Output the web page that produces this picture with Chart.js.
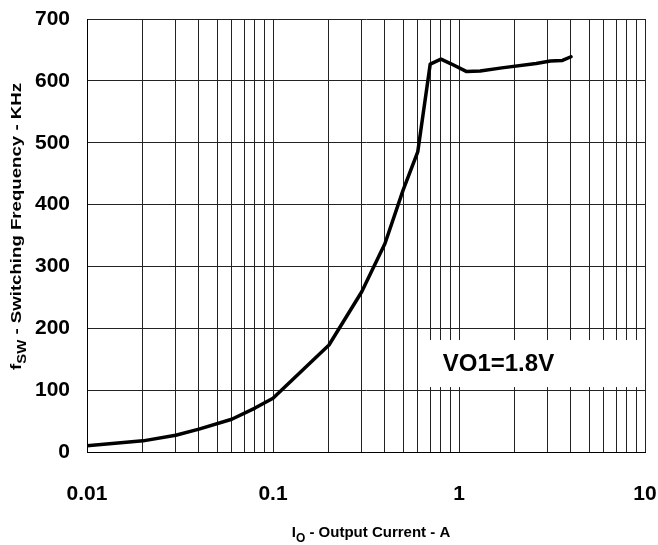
<!DOCTYPE html>
<html>
<head>
<meta charset="utf-8">
<script src="https://cdn.jsdelivr.net/npm/chart.js@4/dist/chart.umd.min.js"></script>
<style>
  html, body { margin: 0; padding: 0; background: #fff; }
  #wrap { width: 658px; height: 545px; position: relative; }
</style>
</head>
<body>
<div id="wrap"><canvas id="c" width="658" height="545"></canvas></div>
<script>
// ---- data ----
const outputCurrentA = [0.01, 0.02, 0.03, 0.04, 0.06, 0.08, 0.1, 0.2, 0.3, 0.4, 0.5, 0.6, 0.7, 0.8, 0.9, 1.1, 1.3, 1.7, 2.6, 3.1, 3.6, 4.0];
const switchingFreqKHz = [10, 18, 27, 37, 53, 71, 87, 173, 259, 337, 423, 485, 627, 635, 628, 615, 616, 621, 628, 632, 633, 639];
const xTickLabels = ['0.01', '0.1', '1', '10'];
const yTickValues = [0, 100, 200, 300, 400, 500, 600, 700];
const seriesLabel = 'VO1=1.8V';
const yTitleParts = ['f', 'SW', ' - Switching Frequency - KHz'];
const xTitleParts = ['I', 'O', ' - Output Current - A'];

const FONT = '"Liberation Sans", Arial, Helvetica, sans-serif';

const xGridValues = [];
[0.01, 0.1, 1].forEach(d => { for (let k = 1; k <= 9; k++) xGridValues.push(+(k * d).toPrecision(3)); });
xGridValues.push(10);

function drawSubText(ctx, parts, mainPx, subPx, subDrop, targetLen) {
  ctx.font = 'bold ' + mainPx + 'px ' + FONT;
  const w0 = ctx.measureText(parts[0]).width;
  const w2 = ctx.measureText(parts[2]).width;
  ctx.font = 'bold ' + subPx + 'px ' + FONT;
  const w1 = ctx.measureText(parts[1]).width;
  const total = w0 + w1 + w2;
  if (targetLen) ctx.scale(targetLen / total, 1);
  let x = -total / 2;
  ctx.textBaseline = 'middle';
  ctx.textAlign = 'left';
  ctx.font = 'bold ' + mainPx + 'px ' + FONT;
  ctx.fillText(parts[0], x, 0); x += w0;
  ctx.font = 'bold ' + subPx + 'px ' + FONT;
  ctx.fillText(parts[1], x, subDrop); x += w1;
  ctx.font = 'bold ' + mainPx + 'px ' + FONT;
  ctx.fillText(parts[2], x, 0);
}

const decor = {
  id: 'decor',
  beforeDatasetsDraw(chart) {
    const { ctx, scales: { x, y } } = chart;
    const l = x.getPixelForValue(0.6), r = x.getPixelForValue(10);
    const t = y.getPixelForValue(181), b = y.getPixelForValue(105);
    ctx.save();
    ctx.fillStyle = '#fff';
    ctx.fillRect(l + 1, t, r - l - 2, b - t);
    ctx.fillStyle = '#000';
    ctx.font = 'bold 24px ' + FONT;
    ctx.textAlign = 'left';
    ctx.textBaseline = 'middle';
    ctx.fillText(seriesLabel, l + 25, (t + b) / 2 + 1);
    ctx.restore();
  },
  afterDraw(chart) {
    const { ctx } = chart;
    ctx.save();
    ctx.fillStyle = '#000';
    ctx.save();
    ctx.translate(371, 533);
    drawSubText(ctx, xTitleParts, 15, 12, 6, 0);
    ctx.restore();
    ctx.save();
    ctx.translate(16.5, 226.5);
    ctx.rotate(-Math.PI / 2);
    drawSubText(ctx, yTitleParts, 15, 12, 6, 287);
    ctx.restore();
    ctx.restore();
  }
};

new Chart(document.getElementById('c'), {
  type: 'line',
  data: {
    datasets: [{
      label: seriesLabel,
      data: outputCurrentA.map((v, i) => ({ x: v, y: switchingFreqKHz[i] })),
      borderColor: '#000',
      borderWidth: 3.5,
      pointRadius: 0,
      tension: 0,
      fill: false,
      borderJoinStyle: 'round',
      borderCapStyle: 'round'
    }]
  },
  options: {
    responsive: false,
    animation: false,
    devicePixelRatio: 1,
    layout: { padding: { top: 19, right: 13, left: 0, bottom: 0 } },
    plugins: { legend: { display: false }, tooltip: { enabled: false }, title: { display: false } },
    scales: {
      x: {
        type: 'logarithmic',
        min: 0.01,
        max: 10,
        afterBuildTicks: (scale) => { scale.ticks = xGridValues.map(v => ({ value: v })); },
        afterFit: (scale) => { scale.height = 93; },
        grid: { color: '#222', lineWidth: 1, drawTicks: true, tickLength: 30, tickColor: 'rgba(0,0,0,0)' },
        border: { color: '#000', width: 1 },
        ticks: {
          autoSkip: false,
          maxRotation: 0,
          padding: 0,
          color: '#000',
          font: { family: FONT, size: 21, weight: 'bold' },
          callback: (value) => {
            const idx = xTickLabels.findIndex(s => Math.abs(parseFloat(s) - value) < 1e-9);
            return idx >= 0 ? xTickLabels[idx] : '';
          }
        }
      },
      y: {
        min: 0,
        max: 700,
        afterBuildTicks: (scale) => { scale.ticks = yTickValues.map(v => ({ value: v })); },
        afterFit: (scale) => { scale.width = 87; },
        grid: { color: '#222', lineWidth: 1, drawTicks: true, tickLength: 17, tickColor: 'rgba(0,0,0,0)' },
        border: { color: '#000', width: 1 },
        ticks: {
          padding: 0,
          color: '#000',
          font: { family: FONT, size: 21, weight: 'bold' }
        }
      }
    }
  },
  plugins: [decor]
});
</script>
</body>
</html>
